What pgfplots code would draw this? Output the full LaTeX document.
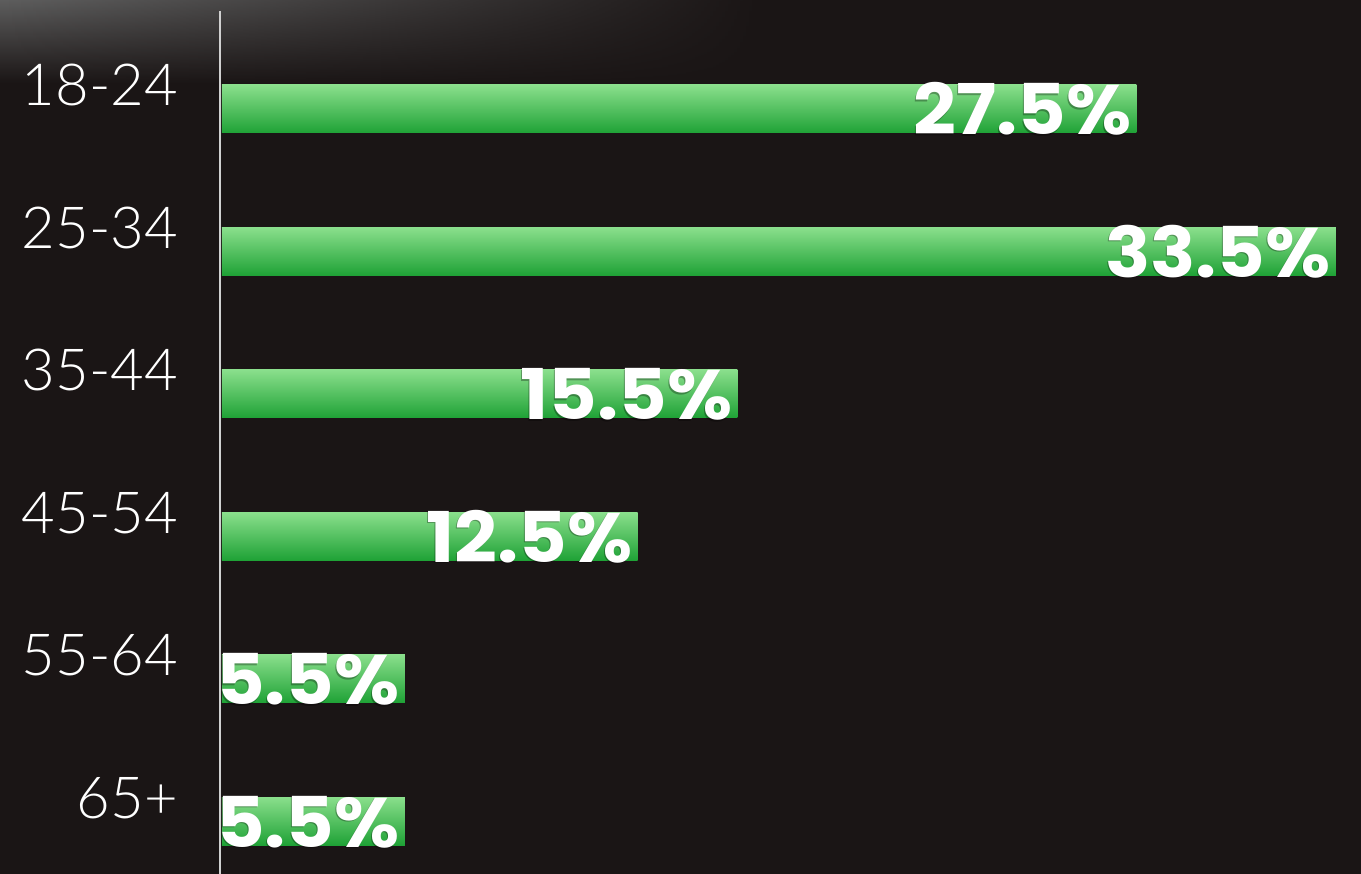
\documentclass[border=0pt]{standalone}
\usepackage{pgfplots}
\pgfplotsset{compat=1.18}
\usetikzlibrary{fadings}
\usepackage{fontspec}
\setmainfont{Liberation Sans}
\newfontfamily\lightfont{Lato Light}
\newfontfamily\heavyfont{Poppins Bold}[FakeStretch=1.07]
\definecolor{bg}{HTML}{1A1515}
\definecolor{bgtop}{HTML}{5E5E5E}
\definecolor{bartop}{HTML}{8ADF8C}
\definecolor{barbot}{HTML}{1FA236}
\definecolor{axline}{HTML}{D0D0D0}

\pgfplotsset{
  agebar/.style={xbar, bar width=48pt, bar shift=0pt, draw=none, top color=bartop, bottom color=barbot},
  agelab/.style={xbar, bar width=48pt, bar shift=0pt, draw=none, fill=none,
    point meta=x,
    nodes near coords={\pgfmathprintnumber[fixed,fixed zerofill,precision=1,assume math mode=true]{\pgfplotspointmeta}\%},
    nodes near coords style={anchor=base east, inner sep=0pt, font=\heavyfont\fontsize{70}{70}\selectfont}},
}

\begin{document}
\begin{tikzpicture}[x=1pt,y=1pt]
\fill[bg] (0,0) rectangle (1361,874);
\shade[top color=bgtop, bottom color=bg, path fading=east] (0,874) rectangle (760,790);
\begin{axis}[
  at={(222pt,0pt)}, anchor=south west,
  scale only axis, width=1139pt, height=874pt,
  xmin=0, xmax=34.256, ymin=-0.765, ymax=5.372,
  y dir=reverse,
  axis line style={draw=none},
  tick style={draw=none},
  xtick=\empty,
  ytick={0,1,2,3,4,5},
  yticklabels={18-24,25-34,35-44,45-54,55-64,65+},
  yticklabel style={font=\lightfont\fontsize{58}{58}\selectfont, text=white, anchor=base east, inner sep=0pt, xshift=-44pt, yshift=3pt},
  clip=false,
]
\addplot[agebar] coordinates {(27.5,0)};
\addplot[agebar] coordinates {(33.5,1)};
\addplot[agebar] coordinates {(15.5,2)};
\addplot[agebar] coordinates {(12.5,3)};
\addplot[agebar] coordinates {(5.5,4)};
\addplot[agebar] coordinates {(5.5,5)};
\addplot[agelab, nodes near coords style={xshift=-6pt, yshift=-27.5pt, text=black, opacity=0.3}] coordinates {(27.5,0) (33.5,1) (15.5,2) (12.5,3) (5.5,4) (5.5,5)};
\addplot[agelab, nodes near coords style={xshift=-5pt, yshift=-26pt, text=white}] coordinates {(27.5,0) (33.5,1) (15.5,2) (12.5,3) (5.5,4) (5.5,5)};
\draw[axline, line width=2pt] ([xshift=-1.5pt]axis cs:0,-0.688) -- ([xshift=-1.5pt]axis cs:0,5.372);
\end{axis}
\pgfresetboundingbox
\useasboundingbox (0,0) rectangle (1361,874);
\end{tikzpicture}
\end{document}
